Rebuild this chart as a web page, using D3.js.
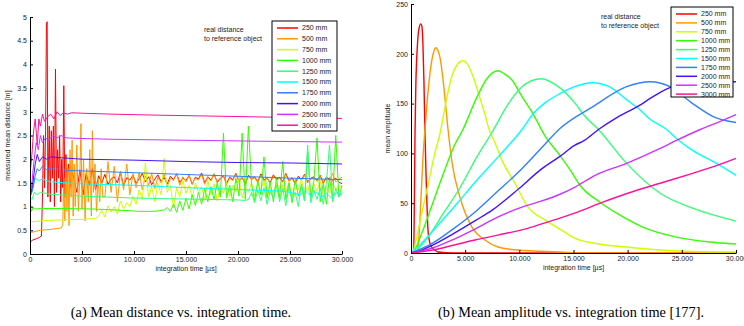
<!DOCTYPE html>
<html>
<head>
<meta charset="utf-8">
<script src="https://cdn.jsdelivr.net/npm/d3@7"></script>
<style>
  body { margin: 0; background: #fff; }
  svg { display: block; }
  .axis text { font-family: "Liberation Sans", Arial, sans-serif; font-size: 7px; fill: #222; }
  .axis path, .axis line { stroke: #000; }
  .lbl { font-family: "Liberation Sans", Arial, sans-serif; font-size: 7px; fill: #222; }
  .cap { font-family: "Liberation Serif", "Times New Roman", serif; font-size: 14.3px; fill: #000; }
</style>
</head>
<body>
<svg id="chart" width="744" height="326"></svg>
<script>
// ---- data ----
const distances = ['250 mm', '500 mm', '750 mm', '1000 mm', '1250 mm', '1500 mm', '1750 mm', '2000 mm', '2500 mm', '3000 mm'];
const colors = ['#ff0000', '#ff9900', '#ccff00', '#33ff00', '#33ff77', '#00ffff', '#2f80ff', '#4411ff', '#cc33ff', '#ff1199'];
const timeTicks = [0, 5000, 10000, 15000, 20000, 25000, 30000];
const distTicks = [0, 0.5, 1, 1.5, 2, 2.5, 3, 3.5, 4, 4.5, 5];
const ampTicks = [0, 50, 100, 150, 200, 250];

// (a) measured mean distance [m] vs integration time [us]
// smooth parts as [t, d], noisy parts as values every noiseStep us
const noiseStep = 300;
const dist250Head = [[0,0.25],[300,0.3],[600,0.32],[900,0.35],[1100,0.38],[1200,1.2],[1300,2.5],[1400,1.4],[1500,2.6],[1580,4.85],[1650,4.9],[1720,1.2],[1850,2.7],[1950,1.1],[2050,2.6],[2150,1.6],[2250,2.7],[2350,1.0],[2450,3.9],[2550,1.3],[2650,2.2],[2750,1.6],[2850,2.5],[2950,1.1],[3050,2.0],[3150,1.4],[3250,3.55],[3350,1.2],[3450,2.1],[3550,1.5],[3700,1.9],[3850,1.4],[4000,1.75]];
const dist250Noise = [1.62,1.30,1.78,1.25,1.70,1.45,1.80,1.35,1.65,1.50,
  1.68,1.47,1.58,1.63,1.50,1.72,1.44,1.61,1.56,1.66,
  1.49,1.59,1.70,1.52,1.63,1.46,1.58,1.67,1.53,1.61,
  1.48,1.64,1.57,1.69,1.51,1.60,1.55,1.66,1.47,1.62,
  1.58,1.71,1.50,1.63,1.56,1.68,1.52,1.60,1.65,1.49,
  1.62,1.57,1.70,1.54,1.61,1.48,1.66,1.59,1.63,1.52,
  1.69,1.56,1.60,1.50,1.67,1.58,1.62,1.53,1.70,1.55,
  1.61,1.49,1.64,1.57,1.68,1.52,1.60,1.63,1.55,1.66,
  1.50,1.62,1.58,1.54,1.60,1.52,1.48];
const dist500Head = [[0,0.45],[400,0.47],[1000,0.5],[2000,0.52],[3000,0.55],[3150,0.6],[3250,1.6],[3350,0.7],[3450,2.0],[3550,0.9],[3650,1.8],[3750,0.6],[3850,2.2],[3950,1.2],[4050,2.4],[4150,0.8],[4250,1.9],[4350,1.0],[4500,2.3],[4650,0.9],[4800,1.7],[4900,2.75],[5000,0.95],[5150,2.0],[5300,0.7],[5450,1.8],[5600,1.1],[5750,2.2],[5900,0.8],[6000,2.6],[6100,1.3],[6250,1.9],[6400,0.9],[6550,1.6],[6700,1.1],[6850,1.8],[7000,1.2]];
const dist500Noise = [1.20,1.95,1.30,1.85,1.10,1.75,1.35,1.90,1.25,1.70,
  1.40,1.72,1.35,1.65,1.45,1.70,1.38,1.62,1.50,1.68,
  1.42,1.60,1.55,1.70,1.45,1.63,1.52,1.66,1.48,1.60,
  1.56,1.68,1.47,1.62,1.54,1.70,1.50,1.58,1.64,1.46,
  1.60,1.55,1.68,1.52,1.63,1.45,1.64,1.57,1.61,1.50,
  1.66,1.54,1.62,1.48,1.65,1.56,1.60,1.51,1.68,1.53,
  1.59,1.47,1.62,1.55,1.66,1.50,1.58,1.61,1.53,1.64,
  1.48,1.60,1.56,1.70,1.52,1.58,1.62];
const dist750Head = [[0,0.7],[300,0.68],[1000,0.7],[3000,0.72],[5000,0.73],[6300,0.75]];
const dist750Noise = [0.80,0.92,0.78,1.02,0.88,1.00,0.84,1.12,0.95,1.08,
  1.00,1.22,1.05,1.35,1.15,1.92,1.20,1.42,1.10,1.50,
  1.25,2.02,1.30,1.45,0.97,1.40,1.20,1.55,1.28,1.45,
  1.18,1.50,1.30,1.42,1.15,1.55,1.25,1.48,1.12,1.40,
  1.28,1.52,1.20,1.45,1.32,1.58,1.18,1.40,1.30,1.50,
  1.22,1.48,1.35,1.55,1.20,1.42,1.28,1.50,1.15,1.45,
  1.30,1.52,1.22,1.40,1.35,1.58,1.25,1.45,1.18,1.48,
  1.32,1.55,1.20,1.42,1.28,1.50,1.35,1.45,1.40];
const dist1000Head = [[0,3.2],[60,1.0],[150,0.9],[300,0.98],[600,0.95],[1000,0.96],[3000,0.96],[6000,0.95],[9000,0.92],[10500,0.9],[12000,0.9],[12900,0.93]];
const dist1000Noise = [0.98,0.90,1.05,0.88,1.12,0.92,1.18,0.95,1.25,1.02,
  1.30,1.05,1.38,1.10,1.42,1.15,1.50,1.20,2.55,1.18,
  1.45,1.10,1.60,1.22,2.55,1.15,2.70,1.48,1.12,1.55,
  1.25,2.05,1.18,1.52,1.10,1.60,1.20,1.95,1.15,1.50,
  1.08,1.58,1.22,1.45,1.12,2.15,1.18,1.55,2.45,1.10,
  1.50,1.05,1.62,1.15,2.50,1.20,1.45];
const dist1250Head = [[0,1.2],[200,1.15],[400,1.3],[700,1.25],[1000,1.3],[2000,1.26],[5000,1.22],[10000,1.18],[15000,1.16],[20000,1.14],[20700,1.13]];
const dist1250Noise = [1.15,1.30,1.08,1.35,1.12,1.40,1.05,1.32,1.18,1.45,
  1.10,1.38,1.02,1.42,1.15,1.30,1.00,1.48,1.12,2.30,
  1.08,1.35,1.15,1.40,1.05,1.50,2.30,1.10,1.38,1.20,
  1.30];
const dist1500 = [[0,1.4],[100,1.3],[300,1.45],[500,1.6],[800,1.55],[1200,1.58],[2000,1.52],[5000,1.48],[10000,1.45],[15000,1.4],[20000,1.36],[24000,1.33],[25000,1.3],[26000,1.25],[26500,1.33],[27000,1.22],[27500,1.3],[28000,1.2],[28500,1.28],[29000,1.18],[29500,1.3],[30000,1.25]];
const dist1750 = [[0,1.5],[100,1.25],[250,1.35],[500,1.65],[700,1.8],[900,1.75],[1200,1.85],[1600,1.78],[2000,1.8],[4000,1.76],[8000,1.73],[12000,1.7],[16000,1.67],[20000,1.64],[25000,1.6],[30000,1.57]];
const dist2000 = [[0,1.55],[100,1.3],[250,1.45],[500,1.9],[700,2.1],[900,1.95],[1200,2.05],[1600,2.0],[2000,2.05],[3000,2.03],[5000,2.0],[10000,1.98],[15000,1.95],[20000,1.93],[25000,1.92],[30000,1.9]];
const dist2500 = [[0,1.6],[150,1.4],[350,1.9],[600,2.35],[800,2.2],[1000,2.5],[1200,2.35],[1500,2.45],[1800,2.4],[2200,2.5],[2600,2.45],[3000,2.5],[3500,2.45],[4500,2.44],[8000,2.42],[15000,2.4],[22000,2.38],[30000,2.36]];
const dist3000 = [[0,1.7],[150,2.0],[350,2.6],[500,2.85],[700,2.3],[850,2.85],[1000,2.7],[1200,2.95],[1400,2.8],[1700,2.9],[2000,2.95],[2300,2.85],[2600,3.0],[2900,2.92],[3200,2.98],[3600,2.95],[4000,2.98],[5000,2.97],[8000,2.95],[12000,2.93],[20000,2.9],[30000,2.86]];

// (b) mean amplitude vs integration time [us]
const amp250 = [[0,0],[250,0],[300,40],[370,120],[450,170],[600,210],[750,226],[900,230],[1000,228],[1100,210],[1200,170],[1290,120],[1400,75],[1500,40],[1570,23],[1700,12],[1900,6],[2200,3],[2500,1],[4000,0],[30000,0]];
const amp500 = [[0,0],[500,0],[650,5],[900,50],[1100,95],[1290,124],[1600,165],[1900,192],[2100,202],[2300,206],[2500,203],[2700,195],[3000,170],[3420,124],[3800,90],[4520,56],[5630,26],[6830,13],[8030,6],[9880,3],[13750,1],[16000,0],[30000,0]];
const amp750 = [[0,0],[200,2],[700,25],[1200,50],[1700,75],[2200,100],[2680,120],[3200,150],[3700,175],[4200,188],[4800,193],[5300,188],[5800,175],[6300,158],[6800,140],[7300,121],[7700,112],[8400,93],[9600,70],[10800,46],[12400,33],[13900,23],[15100,15],[16800,10],[19900,6],[23000,3],[26000,1.5],[30000,1]];
const amp1000 = [[0,0],[200,1],[1000,20],[2000,50],[3000,80],[4000,108],[4800,124],[5900,152],[7000,175],[8000,183],[8600,180],[9300,174],[10250,157],[11200,141],[12400,117],[13600,100],[14900,80],[15600,68],[17450,51],[19300,38],[21400,26],[24500,16],[27600,11],[30000,9]];
const amp1250 = [[0,0],[300,1],[1500,15],[3000,40],[4500,65],[6000,95],[7470,121],[9000,150],[10250,167],[12000,175],[13600,167],[15100,151],[16000,138],[17300,124],[19900,90],[23000,60],[26000,45],[30000,32]];
const amp1500 = [[0,0],[1000,10],[2500,28],[4350,51],[6000,72],[8000,96],[10250,124],[11300,140],[12400,151],[13750,160],[15100,167],[16700,171],[18300,167],[19900,154],[21000,145],[22100,134],[23600,124],[24500,115],[26000,103],[28200,90],[30000,78]];
const amp1750 = [[0,0],[2000,10],[4000,25],[6000,42],[8000,62],[10000,82],[12000,105],[13750,125],[16800,147],[19900,167],[22100,172],[23900,167],[26000,150],[27900,137],[30000,131]];
const amp2000 = [[0,168],[40,0],[2000,8],[4000,20],[6000,33],[7500,43],[10000,65],[12000,84],[13750,97],[15100,108],[16000,113],[17300,124],[19000,136],[20900,147],[22500,158],[23900,166],[26000,170],[28000,172],[30000,172]];
const amp2500 = [[0,0],[2000,5],[4000,14],[5900,24],[8000,36],[10500,47],[12000,52],[13750,59],[15100,66],[17000,78],[19900,90],[23000,105],[24500,113],[26700,124],[28500,132],[30000,139]];
const amp3000 = [[0,0],[2000,3],[4000,8],[5900,13],[8000,18],[10500,24],[12000,29],[13750,35],[15100,40],[17700,51],[20000,60],[23000,70],[26000,80],[28000,87],[30000,95]];

// glue head + evenly spaced noise into one series
function withNoise(head, noise, start) {
  return head.concat(noise.map((v, i) => [start + i * noiseStep, v]));
}

const distSeries = [
  withNoise(dist250Head, dist250Noise, 4200),
  withNoise(dist500Head, dist500Noise, 7200),
  withNoise(dist750Head, dist750Noise, 6600),
  withNoise(dist1000Head, dist1000Noise, 13200),
  withNoise(dist1250Head, dist1250Noise, 21000),
  dist1500, dist1750, dist2000, dist2500, dist3000
];
const ampSeries = [amp250, amp500, amp750, amp1000, amp1250, amp1500, amp1750, amp2000, amp2500, amp3000];

// ---- drawing ----
const svg = d3.select('#chart');
const fmtTime = d => d3.format(',')(d).replace(/,/g, '.');

function panel(cfg) {
  const x = d3.scaleLinear().domain([0, 30000]).range([cfg.left, cfg.right]);
  const y = d3.scaleLinear().domain(cfg.yDomain).range([cfg.bottom, cfg.top]);
  const g = svg.append('g');

  g.append('clipPath').attr('id', cfg.id)
    .append('rect')
    .attr('x', cfg.left).attr('y', cfg.top - 2)
    .attr('width', cfg.right - cfg.left + 1).attr('height', cfg.bottom - cfg.top + 2);

  const line = d3.line().x(d => x(d[0])).y(d => y(d[1])).curve(cfg.curve);
  g.append('g').attr('clip-path', `url(#${cfg.id})`)
    .selectAll('path')
    .data(cfg.series)
    .join('path')
    .attr('d', line)
    .attr('fill', 'none')
    .attr('stroke', (d, i) => colors[i])
    .attr('stroke-width', cfg.lineWidth)
    .attr('stroke-linejoin', 'round');

  // axes with inward ticks
  g.append('g').attr('class', 'axis')
    .attr('transform', `translate(0,${cfg.bottom})`)
    .call(d3.axisBottom(x).tickValues(timeTicks).tickFormat(fmtTime).tickSizeInner(-3).tickSizeOuter(0).tickPadding(3));
  g.append('g').attr('class', 'axis')
    .attr('transform', `translate(${cfg.left},0)`)
    .call(d3.axisLeft(y).tickValues(cfg.yTicks).tickFormat(d => d).tickSizeInner(-3).tickSizeOuter(0).tickPadding(3));

  g.append('text').attr('class', 'lbl')
    .attr('x', (cfg.left + cfg.right) / 2).attr('y', cfg.bottom + 17)
    .attr('text-anchor', 'middle')
    .text('integration time [µs]');
  g.append('text').attr('class', 'lbl')
    .attr('transform', `translate(${cfg.yLabelX},${(cfg.top + cfg.bottom) / 2}) rotate(-90)`)
    .attr('text-anchor', 'middle')
    .text(cfg.yLabel);

  // note text
  g.append('text').attr('class', 'lbl').attr('x', cfg.noteX).attr('y', cfg.noteY).text('real distance');
  g.append('text').attr('class', 'lbl').attr('x', cfg.noteX).attr('y', cfg.noteY + 9).text('to reference object');

  // legend
  const L = cfg.legend;
  g.append('rect')
    .attr('x', L.x).attr('y', L.y).attr('width', L.w).attr('height', L.h)
    .attr('fill', '#fff').attr('stroke', '#000').attr('stroke-width', 1);
  const items = g.selectAll('.leg').data(distances).join('g')
    .attr('transform', (d, i) => `translate(${L.x},${L.y + L.first + i * L.step})`);
  items.append('line')
    .attr('x1', 5).attr('x2', 26).attr('y1', 0).attr('y2', 0)
    .attr('stroke', (d, i) => colors[i]).attr('stroke-width', 1.5);
  items.append('text').attr('class', 'lbl')
    .attr('x', 30).attr('dy', '0.35em').text(d => d);
}

panel({
  id: 'clipA', left: 30, right: 342, top: 17, bottom: 254,
  yDomain: [0, 5], yTicks: distTicks, series: distSeries, lineWidth: 1,
  curve: d3.curveLinear,
  yLabel: 'measured mean distance [m]', yLabelX: 10,
  noteX: 204, noteY: 31.5,
  legend: { x: 272, y: 21, w: 65, h: 110, first: 7, step: 10.8 }
});

panel({
  id: 'clipB', left: 411, right: 736, top: 4, bottom: 253,
  yDomain: [0, 250], yTicks: ampTicks, series: ampSeries, lineWidth: 1.4,
  curve: d3.curveMonotoneX,
  yLabel: 'mean amplitude', yLabelX: 390,
  noteX: 601, noteY: 18.5,
  legend: { x: 671, y: 7, w: 62, h: 90, first: 7, step: 8.9 }
});

svg.append('text').attr('class', 'cap').attr('x', 181).attr('y', 317).attr('text-anchor', 'middle')
  .text('(a) Mean distance vs. integration time.');
svg.append('text').attr('class', 'cap').attr('x', 571).attr('y', 317).attr('text-anchor', 'middle')
  .text('(b) Mean amplitude vs. integration time [177].');
</script>
</body>
</html>
